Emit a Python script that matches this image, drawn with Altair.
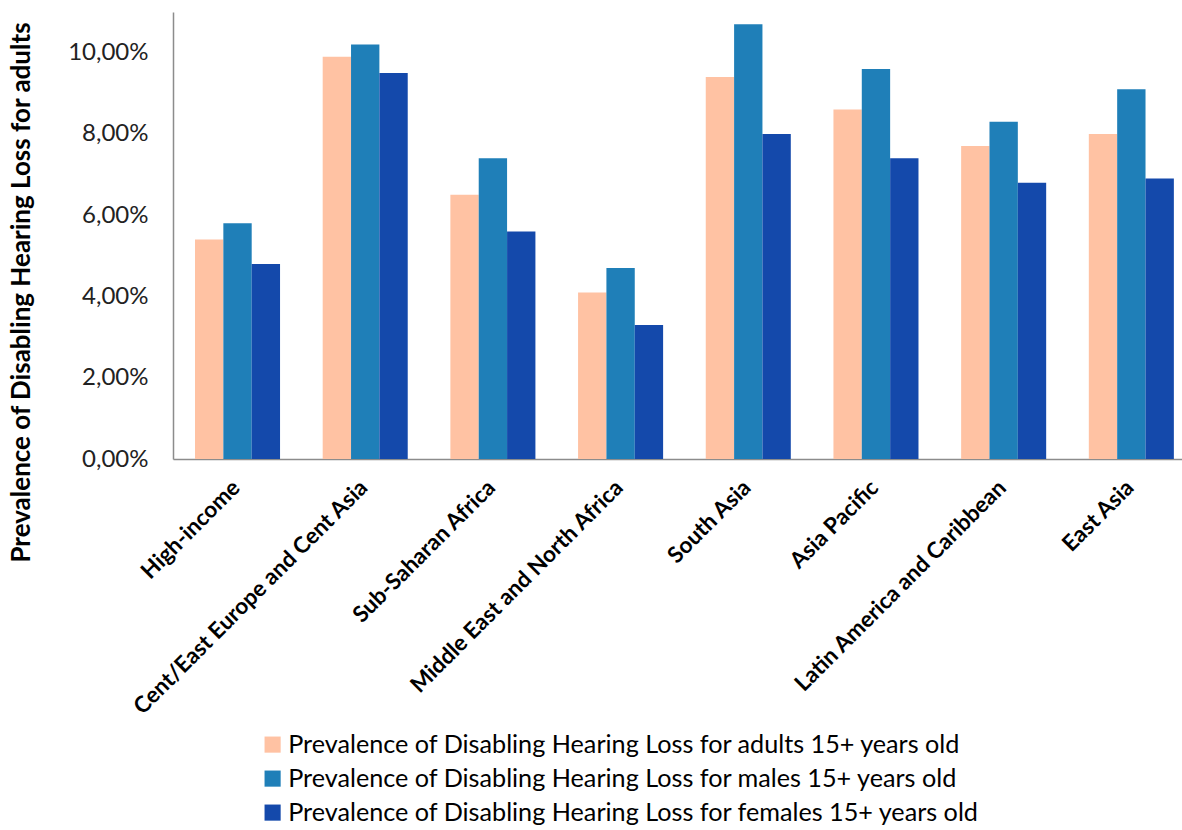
import altair as alt
import pandas as pd

regions = ["High-income", "Cent/East Europe and Cent Asia", "Sub-Saharan Africa",
           "Middle East and North Africa", "South Asia", "Asia Pacific",
           "Latin America and Caribbean", "East Asia"]
series = ["Prevalence of Disabling Hearing Loss for adults 15+ years old",
          "Prevalence of Disabling Hearing Loss for males 15+ years old",
          "Prevalence of Disabling Hearing Loss for females 15+ years old"]
adults = [0.054, 0.099, 0.065, 0.041, 0.094, 0.086, 0.077, 0.080]
males = [0.058, 0.102, 0.074, 0.047, 0.107, 0.096, 0.083, 0.091]
females = [0.048, 0.095, 0.056, 0.033, 0.080, 0.074, 0.068, 0.069]
colors = ["#FFC2A3", "#1F7FB8", "#1449AB"]

rows = []
for vals, s in zip([adults, males, females], series):
    for r, v in zip(regions, vals):
        rows.append({"region": r, "series": s, "value": v})
df = pd.DataFrame(rows)

chart = alt.Chart(df).mark_bar().encode(
    x=alt.X("region:N", sort=regions, title=None,
            scale=alt.Scale(paddingInner=0.334, paddingOuter=0.118, align=0.73),
            axis=alt.Axis(labelAngle=-45, labelAlign="right", labelBaseline="top",
                          labelFont="Lato", labelFontSize=22.5, labelFontWeight="bold",
                          labelColor="black", ticks=False, domainColor="#8c8c8c",
                          domainWidth=1.5, labelPadding=17, labelOffset=-9, labelLimit=500)),
    xOffset=alt.XOffset("series:N", sort=series),
    y=alt.Y("value:Q", title="Prevalence of Disabling Hearing Loss  for adults",
            scale=alt.Scale(domain=[0, 0.11], nice=False),
            axis=alt.Axis(values=[0, 0.02, 0.04, 0.06, 0.08, 0.10],
                          labelExpr="replace(format(datum.value, '.2%'), '.', ',')",
                          grid=False, ticks=False, domainColor="#8c8c8c", domainWidth=1.5,
                          labelFont="Lato", labelFontSize=24, labelColor="#222",
                          labelPadding=25,
                          titleFont="Lato", titleFontSize=26, titleFontWeight="bold",
                          titleColor="black", titleAngle=270, titleX=-152, titleY=280,
                          titleAlign="center", titleBaseline="middle")),
    color=alt.Color("series:N", sort=series,
                    scale=alt.Scale(domain=series, range=colors),
                    legend=alt.Legend(title=None, orient="none", legendX=87, legendY=720,
                                      direction="vertical", symbolType="square",
                                      symbolSize=260, symbolStrokeWidth=0,
                                      labelFont="Lato", labelFontSize=25.2,
                                      labelColor="black", labelLimit=1000,
                                      rowPadding=8, labelOffset=3, padding=0)),
).properties(
    width=1009, height=447,
    autosize=alt.AutoSizeParams(type="none"),
    padding={"left": 173, "top": 12, "right": 0, "bottom": 371},
).configure_view(stroke=None)

chart.save("out.html", embed_options={"renderer": "svg", "actions": False})
